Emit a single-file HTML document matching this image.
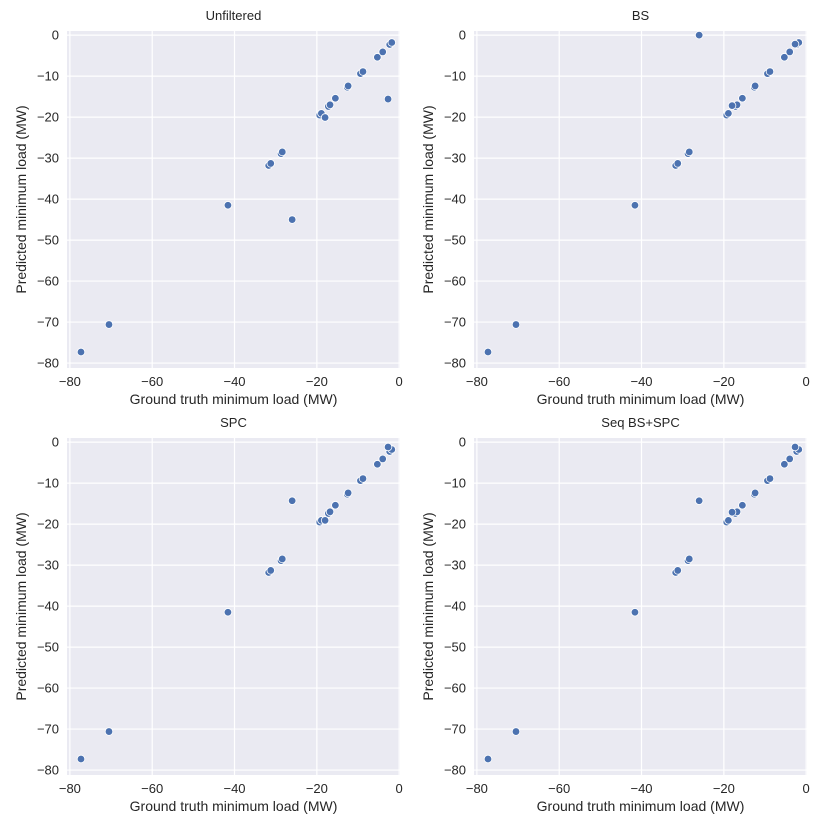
<!DOCTYPE html>
<html><head><meta charset="utf-8"><style>
body{margin:0;background:#fff;}
svg{display:block;font-family:"Liberation Sans","DejaVu Sans",sans-serif;}
</style></head><body>
<svg id="chart" width="830" height="830"></svg>
<script>
const panelTitles = ["Unfiltered","BS","SPC","Seq BS+SPC"];
const baseX = [-77.3,-70.5,-41.6,-31.7,-31.2,-28.7,-28.4,-19.3,-18.9,-17.2,-16.8,-15.5,-12.6,-12.4,-9.4,-8.8,-5.3,-4.0,-2.3,-1.8];
const baseY = [-77.3,-70.6,-41.5,-31.8,-31.3,-28.9,-28.5,-19.5,-19.1,-17.4,-17.0,-15.4,-12.7,-12.4,-9.4,-8.9,-5.4,-4.1,-2.3,-1.8];
const extraX = [-26.0,-18.0,-2.7];
const unfilteredY = [-45.0,-20.1,-15.6];
const bsY = [0.0,-17.2,-2.2];
const spcY = [-14.3,-19.1,-1.2];
const seqY = [-14.3,-17.1,-1.2];
const extrasY = [unfilteredY,bsY,spcY,seqY];
const xTicks = [-80,-60,-40,-20,0];
const yTicks = [0,-10,-20,-30,-40,-50,-60,-70,-80];

const NS="http://www.w3.org/2000/svg";
const svg=document.getElementById('chart');
function mk(t,a,p){const e=document.createElementNS(NS,t);for(const k in a)e.setAttribute(k,a[k]);(p||svg).appendChild(e);return e;}
const W=333,H=337,x0=-80.7,x1=0.2,y0=-81.2,y1=1.0;
const origins=[[67,31],[474,31],[67,438],[474,438]];
origins.forEach((o,i)=>{
  const g=mk('g',{transform:`translate(${o[0]},${o[1]})`});
  
  
  const sx=v=>(v-x0)/(x1-x0)*W, sy=v=>(y1-v)/(y1-y0)*H;
  const bg=mk('rect',{x:0,y:0,width:W,height:H,fill:'#eaeaf2'},g);
  
  
  xTicks.forEach(t=>{
    const l=mk('line',{x1:sx(t),x2:sx(t),y1:0,y2:H,stroke:'#fff','stroke-width':1.2},g);
    
    
    const tx=mk('text',{x:sx(t),y:H+18,'text-anchor':'middle','font-size':13,fill:'#262626'},g);
    tx.textContent=t===0?'0':'\u2212'+Math.abs(t);
    
    
  });
  yTicks.forEach(t=>{
    const l=mk('line',{x1:0,x2:W,y1:sy(t),y2:sy(t),stroke:'#fff','stroke-width':1.2},g);
    
    
    const tx=mk('text',{x:-8,y:sy(t)+4.5,'text-anchor':'end','font-size':13,fill:'#262626'},g);
    tx.textContent=t===0?'0':'\u2212'+Math.abs(t);
    
    
  });
  const ti=mk('text',{x:W/2,y:-11,'text-anchor':'middle','font-size':13,fill:'#262626'},g);
  ti.textContent=panelTitles[i];
  
  
  const xl=mk('text',{x:W/2,y:H+36,'text-anchor':'middle','font-size':14,fill:'#262626'},g);
  xl.textContent='Ground truth minimum load (MW)';
  
  
  const yl=mk('text',{x:0,y:0,transform:`translate(-41,${H/2}) rotate(-90)`,'text-anchor':'middle','font-size':14,fill:'#262626'},g);
  yl.textContent='Predicted minimum load (MW)';
  
  
  const xs=baseX.concat(extraX), ys=baseY.concat(extrasY[i]);
  xs.forEach((v,j)=>{
    const c=mk('circle',{cx:sx(v),cy:sy(ys[j]),r:3.8,fill:'#4c72b0',stroke:'#fff','stroke-width':0.8},g);
    
    
  });
});
</script>
</body></html>
